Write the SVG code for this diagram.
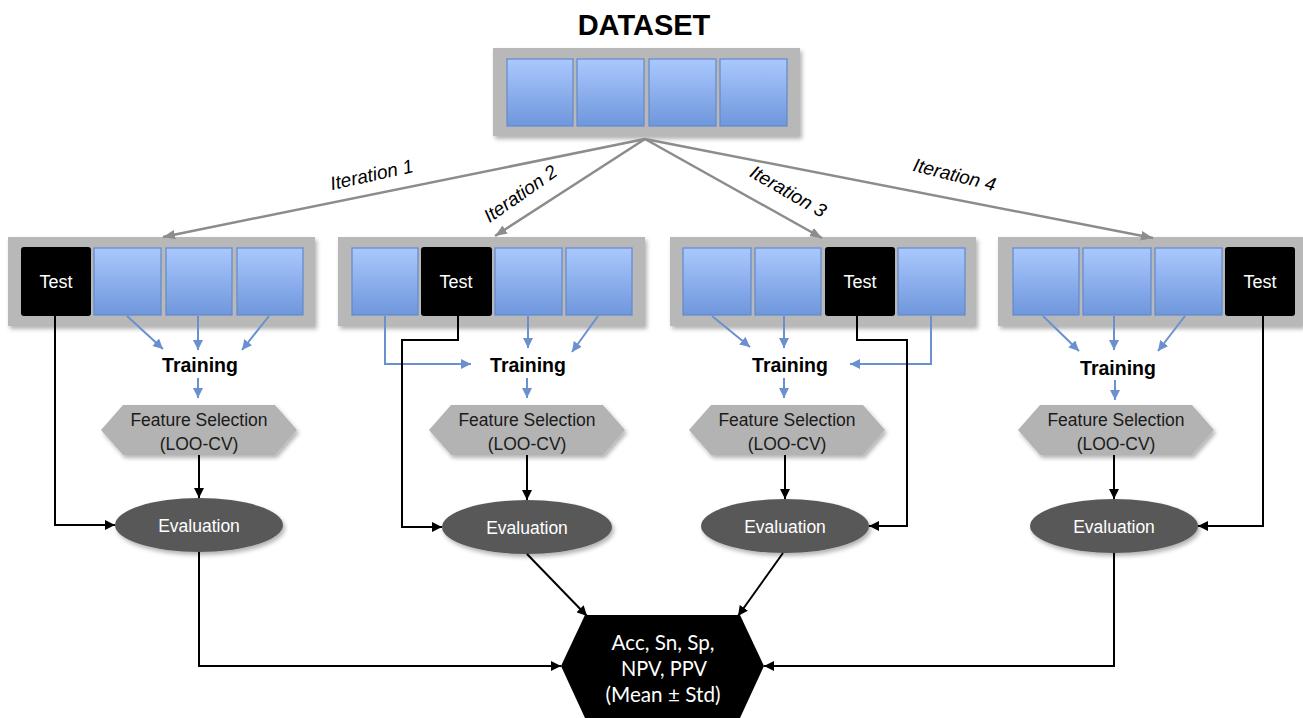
<svg xmlns="http://www.w3.org/2000/svg" width="1303" height="718" viewBox="0 0 1303 718">
  <defs>
    <linearGradient id="cellGrad" x1="0" y1="0" x2="0" y2="1">
      <stop offset="0" stop-color="#aac8fd"/>
      <stop offset="1" stop-color="#6f97dc"/>
    </linearGradient>
    <filter id="shadow" x="-10%" y="-10%" width="125%" height="130%">
      <feDropShadow dx="2" dy="3" stdDeviation="2" flood-color="#000" flood-opacity="0.3"/>
    </filter>
    <marker id="arrowBlack" viewBox="0 0 10 10" refX="10" refY="5" markerWidth="10" markerHeight="10" markerUnits="userSpaceOnUse" orient="auto">
      <path d="M0,0 L10,5 L0,10 z" fill="#000"/>
    </marker>
    <marker id="arrowBlue" viewBox="0 0 10 10" refX="10" refY="5" markerWidth="10" markerHeight="10" markerUnits="userSpaceOnUse" orient="auto">
      <path d="M0,0 L10,5 L0,10 z" fill="#6a90cf"/>
    </marker>
    <marker id="arrowGray" viewBox="0 0 10 10" refX="10" refY="5" markerWidth="12" markerHeight="12" markerUnits="userSpaceOnUse" orient="auto">
      <path d="M0,1 L10,5 L0,9 z" fill="#8c8c8c"/>
    </marker>
  </defs>
  <style>
    .panel { fill: #b8b8b8; filter: url(#shadow); }
    .cell { fill: url(#cellGrad); stroke: #6289cc; stroke-width: 1.2; }
    .test { fill: #000; }
    .testText { font-family: "Liberation Sans", Arial, sans-serif; font-size: 18px; fill: #fff; text-anchor: middle; }
    .title { font-family: "Liberation Sans", Arial, sans-serif; font-size: 29px; font-weight: bold; fill: #000; text-anchor: middle; }
    .iter { font-family: "Liberation Sans", Arial, sans-serif; font-size: 19px; font-style: italic; fill: #000; text-anchor: middle; }
    .training { font-family: "Liberation Sans", Arial, sans-serif; font-size: 19.5px; font-weight: bold; fill: #000; text-anchor: middle; }
    .fs { fill: #b3b3b3; filter: url(#shadow); }
    .fsText { font-family: "Liberation Sans", Arial, sans-serif; font-size: 17.5px; fill: #1a1a1a; text-anchor: middle; }
    .eval { fill: #595959; filter: url(#shadow); }
    .evalText { font-family: "Liberation Sans", Arial, sans-serif; font-size: 17.5px; fill: #fff; text-anchor: middle; }
    .result { fill: #000; }
    .resultText { font-family: Lato, "Open Sans", sans-serif; font-size: 20.5px; fill: #fff; text-anchor: middle; }
    .gray { stroke: #8c8c8c; stroke-width: 2.5; fill: none; marker-end: url(#arrowGray); }
    .blue { stroke: #6a90cf; stroke-width: 2; fill: none; marker-end: url(#arrowBlue); }
    .black { stroke: #000; stroke-width: 2; fill: none; marker-end: url(#arrowBlack); }
  </style>

  <!-- dataset -->
  <g id="dataset">
    <text class="title" x="644" y="35">DATASET</text>
    <rect class="panel" x="493" y="48" width="307" height="88"/>
    <rect class="cell" x="507" y="59" width="66" height="67"/>
    <rect class="cell" x="577" y="59" width="67" height="67"/>
    <rect class="cell" x="649" y="59" width="67" height="67"/>
    <rect class="cell" x="720" y="59" width="67" height="67"/>
  </g>

  <!-- fold 1 -->
  <g id="fold1">
    <rect class="panel" x="8" y="237" width="307" height="89"/>
    <rect class="test" x="21" y="247" width="70" height="69" rx="3"/>
    <text class="testText" x="56" y="288">Test</text>
    <rect class="cell" x="94" y="248" width="67" height="67"/>
    <rect class="cell" x="166" y="248" width="66" height="67"/>
    <rect class="cell" x="237" y="248" width="66" height="67"/>
  </g>
  <!-- fold 2 -->
  <g id="fold2">
    <rect class="panel" x="338" y="237" width="307" height="89"/>
    <rect class="cell" x="352" y="248" width="66" height="67"/>
    <rect class="test" x="421" y="247" width="71" height="69" rx="3"/>
    <text class="testText" x="456" y="288">Test</text>
    <rect class="cell" x="495" y="248" width="67" height="67"/>
    <rect class="cell" x="566" y="248" width="66" height="67"/>
  </g>
  <!-- fold 3 -->
  <g id="fold3">
    <rect class="panel" x="670" y="237" width="306" height="89"/>
    <rect class="cell" x="683" y="248" width="68" height="67"/>
    <rect class="cell" x="755" y="248" width="66" height="67"/>
    <rect class="test" x="825" y="247" width="70" height="69" rx="3"/>
    <text class="testText" x="860" y="288">Test</text>
    <rect class="cell" x="898" y="248" width="67" height="67"/>
  </g>
  <!-- fold 4 -->
  <g id="fold4">
    <rect class="panel" x="998" y="237" width="305" height="89"/>
    <rect class="cell" x="1013" y="248" width="66" height="67"/>
    <rect class="cell" x="1083" y="248" width="68" height="67"/>
    <rect class="cell" x="1155" y="248" width="67" height="67"/>
    <rect class="test" x="1225" y="247" width="70" height="69" rx="3"/>
    <text class="testText" x="1260" y="288">Test</text>
  </g>

  <!-- training labels -->
  <g id="training1"><text class="training" x="200" y="372">Training</text></g>
  <g id="training2"><text class="training" x="528" y="372">Training</text></g>
  <g id="training3"><text class="training" x="790" y="372">Training</text></g>
  <g id="training4"><text class="training" x="1118" y="375">Training</text></g>

  <!-- feature selection -->
  <g id="fs1">
    <polygon class="fs" points="101,430 123,405 275,405 297,430 275,455 123,455"/>
    <text class="fsText" x="199" y="426">Feature Selection</text>
    <text class="fsText" x="199" y="450">(LOO-CV)</text>
  </g>
  <g id="fs2">
    <polygon class="fs" points="429,430 451,405 603,405 625,430 603,455 451,455"/>
    <text class="fsText" x="527" y="426">Feature Selection</text>
    <text class="fsText" x="527" y="450">(LOO-CV)</text>
  </g>
  <g id="fs3">
    <polygon class="fs" points="689,430 711,405 863,405 885,430 863,455 711,455"/>
    <text class="fsText" x="787" y="426">Feature Selection</text>
    <text class="fsText" x="787" y="450">(LOO-CV)</text>
  </g>
  <g id="fs4">
    <polygon class="fs" points="1018,430 1040,405 1192,405 1214,430 1192,455 1040,455"/>
    <text class="fsText" x="1116" y="426">Feature Selection</text>
    <text class="fsText" x="1116" y="450">(LOO-CV)</text>
  </g>

  <!-- evaluation -->
  <g id="eval1">
    <ellipse class="eval" cx="199" cy="525" rx="84" ry="27"/>
    <text class="evalText" x="199" y="532">Evaluation</text>
  </g>
  <g id="eval2">
    <ellipse class="eval" cx="527" cy="527" rx="85" ry="27"/>
    <text class="evalText" x="527" y="534">Evaluation</text>
  </g>
  <g id="eval3">
    <ellipse class="eval" cx="785" cy="526" rx="84" ry="27"/>
    <text class="evalText" x="785" y="533">Evaluation</text>
  </g>
  <g id="eval4">
    <ellipse class="eval" cx="1114" cy="526" rx="84" ry="27"/>
    <text class="evalText" x="1114" y="533">Evaluation</text>
  </g>

  <!-- summary metrics -->
  <g id="result">
    <polygon class="result" points="561,666 585,615 740,615 764,666 740,718 585,718"/>
    <text class="resultText" x="663" y="650" textLength="103" lengthAdjust="spacingAndGlyphs">Acc, Sn, Sp,</text>
    <text class="resultText" x="664" y="676" textLength="86" lengthAdjust="spacingAndGlyphs">NPV, PPV</text>
    <text class="resultText" x="663" y="702" textLength="115" lengthAdjust="spacingAndGlyphs">(Mean ± Std)</text>
  </g>

  <!-- iteration labels -->
  <g id="iterLabels">
    <text class="iter" transform="translate(373,181) rotate(-12.5)">Iteration 1</text>
    <text class="iter" transform="translate(524,199) rotate(-35)">Iteration 2</text>
    <text class="iter" transform="translate(785,197) rotate(30)">Iteration 3</text>
    <text class="iter" transform="translate(953,181) rotate(14)">Iteration 4</text>
  </g>

  <g id="connectors">
    <!-- dataset to folds -->
    <line class="gray" x1="645" y1="139" x2="163" y2="237"/>
    <line class="gray" x1="645" y1="139" x2="495" y2="236"/>
    <line class="gray" x1="645" y1="139" x2="822" y2="238"/>
    <line class="gray" x1="645" y1="139" x2="1153" y2="238"/>

    <!-- training sets, fold 1 -->
    <line class="blue" x1="127" y1="316" x2="163" y2="349"/>
    <line class="blue" x1="198" y1="316" x2="198" y2="350"/>
    <line class="blue" x1="269" y1="316" x2="242" y2="350"/>
    <line class="blue" x1="198" y1="378" x2="198" y2="398"/>
    <!-- fold 2 -->
    <polyline class="blue" points="385,316 385,364 471,364"/>
    <line class="blue" x1="528" y1="316" x2="528" y2="348"/>
    <line class="blue" x1="598" y1="316" x2="572" y2="352"/>
    <line class="blue" x1="527" y1="378" x2="527" y2="398"/>
    <!-- fold 3 -->
    <line class="blue" x1="712" y1="316" x2="750" y2="347"/>
    <line class="blue" x1="784" y1="316" x2="784" y2="348"/>
    <polyline class="blue" points="931,316 931,364 850,364"/>
    <line class="blue" x1="784" y1="378" x2="784" y2="398"/>
    <!-- fold 4 -->
    <line class="blue" x1="1043" y1="316" x2="1079" y2="351"/>
    <line class="blue" x1="1114" y1="316" x2="1114" y2="350"/>
    <line class="blue" x1="1185" y1="316" x2="1158" y2="351"/>
    <line class="blue" x1="1115" y1="380" x2="1115" y2="400"/>

    <!-- feature selection to evaluation -->
    <line class="black" x1="199" y1="455" x2="199" y2="498"/>
    <line class="black" x1="527" y1="455" x2="527" y2="500"/>
    <line class="black" x1="785" y1="455" x2="785" y2="499"/>
    <line class="black" x1="1114" y1="455" x2="1114" y2="499"/>

    <!-- test sets to evaluation -->
    <polyline class="black" points="55,316 55,525 115,525"/>
    <polyline class="black" points="458,316 458,340 402,340 402,527 442,527"/>
    <polyline class="black" points="857,316 857,340 907,340 907,526 869,526"/>
    <polyline class="black" points="1263,316 1263,526 1198,526"/>

    <!-- evaluation to summary -->
    <polyline class="black" points="199,552 199,666 561,666"/>
    <line class="black" x1="527" y1="554" x2="587" y2="616"/>
    <line class="black" x1="783" y1="553" x2="738" y2="616"/>
    <polyline class="black" points="1114,553 1114,666 764,666"/>
  </g>
</svg>
